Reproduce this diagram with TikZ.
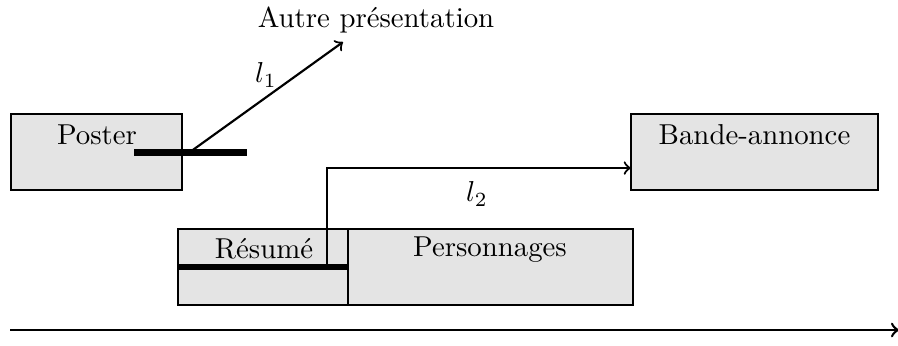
\documentclass[tikz,border=0pt]{standalone}
\begin{document}
\begin{tikzpicture}[x=0.3472pt,y=-0.3472pt,
  box/.style={draw,line width=0.8pt,fill=boxfill,inner sep=0pt,outer sep=0pt},
  lbl/.style={anchor=base,inner sep=0pt},
  bar/.style={line width=2.4pt},
  arr/.style={->,line width=0.75pt}]
\definecolor{boxfill}{gray}{0.895}
\useasboundingbox (0,0) rectangle (898,345);
% boxes
\node[box,minimum width=59.4pt,minimum height=26.4pt] (poster) at (96.5,152) {};
\node[box,minimum width=85.8pt,minimum height=26.4pt] (bande) at (754.5,152) {};
\node[box,minimum width=59.0pt,minimum height=26.4pt] (resume) at (263,267) {};
\node[box,minimum width=99.0pt,minimum height=26.4pt] (perso) at (490.5,267) {};
% texts
\node[lbl] (tposter) at (97,144) {Poster};
\node[lbl] (tbande) at (754.5,144) {Bande-annonce};
\node[lbl] (tresume) at (264,258.5) {Résumé};
\node[lbl] (tperso) at (490,256.5) {Personnages};
\node[lbl] (autre) at (376,27) {Autre présentation};
\node (l1) at (266,75) {$l_1$};
\node (l2) at (477,194) {$l_2$};
% bars
\coordinate (pb0) at (134,152.7);
\coordinate (pb1) at (247,152.7);
\draw[bar] (pb0) -- (pb1);
\draw[bar] (resume.west |- 0,267) -- (resume.east |- 0,267);
% connectors
\coordinate (l1start) at (190,152);
\coordinate (l1end) at (343,42);
\draw[arr] (l1start) -- (l1end);
\coordinate (l2start) at (327,267);
\draw[arr] (l2start) |- ([yshift=-5.56pt]bande.west);
% axis
\coordinate (ax0) at (10,330);
\coordinate (ax1) at (899,330);
\draw[arr,line width=0.9pt] (ax0) -- (ax1);
\end{tikzpicture}
\end{document}
